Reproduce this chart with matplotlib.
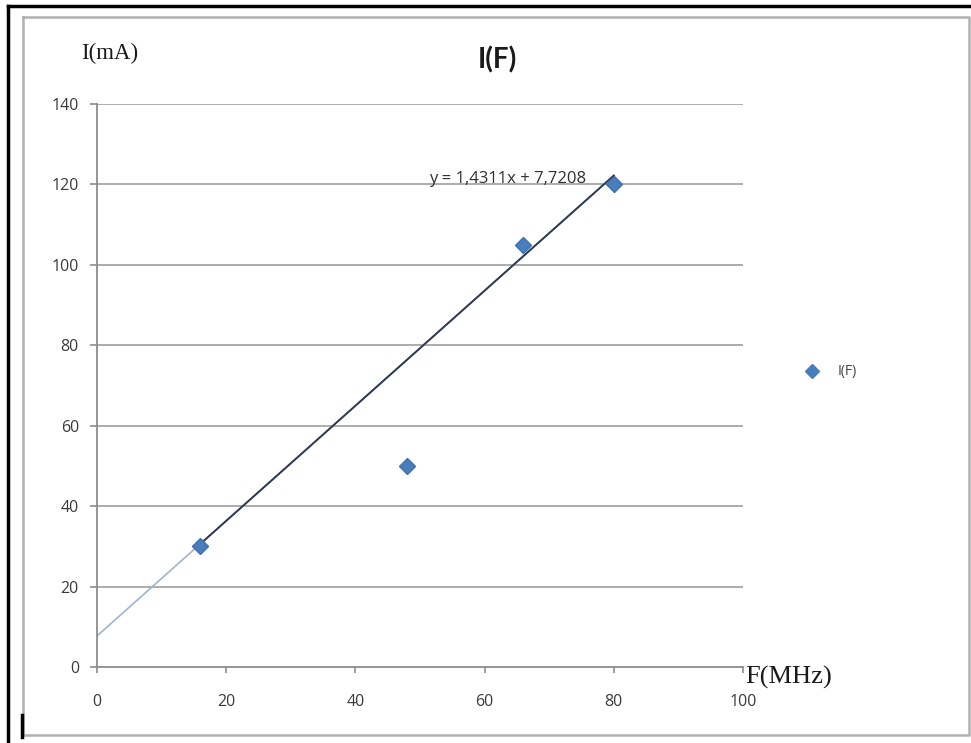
import matplotlib
matplotlib.use("Agg")
import matplotlib.pyplot as plt
from matplotlib.lines import Line2D
import numpy as np

# ---- data ----
freq_mhz = [16, 48, 66, 80]
current_ma = [30, 50, 105, 120]
trend_slope = 1.4311
trend_intercept = 7.7208
trend_label = "y = 1,4311x + 7,7208"
x_ticks = [0, 20, 40, 60, 80, 100]
y_ticks = [0, 20, 40, 60, 80, 100, 120, 140]
series_name = "I(F)"
title = "I(F)"
y_title = "I(mA)"
x_title = "F(MHz)"

W, H = 971, 743
fig = plt.figure(figsize=(W / 100, H / 100), dpi=100)
fig.patch.set_facecolor("white")

def fx(px):
    return px / W

def fy(py):
    return 1 - py / H

# plot area
x0, x1 = 97, 743
y0, y1 = 667, 104
ax = fig.add_axes([fx(x0), fy(y0), fx(x1) - fx(x0), fy(y1) - fy(y0)])
ax.set_xlim(0, 100)
ax.set_ylim(0, 140)

grid_c = "#a6a6a6"
axis_c = "#8c8c8c"
for v in y_ticks[1:]:
    ax.axhline(v, color=grid_c, lw=1.3, zorder=1)
for s in ["top", "right"]:
    ax.spines[s].set_visible(False)
for s in ["left", "bottom"]:
    ax.spines[s].set_color(axis_c)
    ax.spines[s].set_linewidth(1.3)

ax.set_xticks(x_ticks)
ax.set_yticks(y_ticks)
ax.set_xticklabels([str(t) for t in x_ticks])
ax.set_yticklabels([str(t) for t in y_ticks])
ax.tick_params(axis="y", direction="out", length=5, width=1.2, color=axis_c,
               pad=8, labelsize=11.5, labelcolor="#3a3a3a")
ax.tick_params(axis="x", direction="out", length=4.5, width=1.2, color=axis_c,
               pad=15, labelsize=11.5, labelcolor="#3a3a3a")
for lab in ax.get_xticklabels() + ax.get_yticklabels():
    lab.set_fontfamily("Open Sans")

# trendline (full, light) and darker segment over data range
xt = np.array([0, max(freq_mhz)])
ax.plot(xt, trend_slope * xt + trend_intercept, color="#9fb3cf", lw=1.2, zorder=2)
xd = np.array([min(freq_mhz), max(freq_mhz)])
ax.plot(xd, trend_slope * xd + trend_intercept, color="#2e3a52", lw=1.4, zorder=3)

ax.plot(freq_mhz, current_ma, linestyle="none", marker="D", markersize=8.5,
        color="#4a7ebb", markeredgecolor="#3f70ad", zorder=4)

# equation label (placed near the top of the trendline)
ax.text(63.6, 121.3, trend_label, ha="center", va="center", fontsize=12,
        color="#303030", family="Open Sans", zorder=5)

# texts
fig.text(fx(497), fy(60), title, ha="center", va="center", fontsize=20,
         fontweight="bold", family="Lato", color="#1a1a1a")
fig.text(fx(110), fy(53), y_title, ha="center", va="center", fontsize=16.5,
         family="Liberation Serif", color="#1a1a1a")
fig.text(fx(789), fy(677), x_title, ha="center", va="center", fontsize=19,
         family="Liberation Serif", color="#1a1a1a")

# legend
fig.add_artist(Line2D([fx(812)], [fy(371)], marker="D", markersize=7,
                      color="#4a7ebb", linestyle="none", transform=fig.transFigure))
fig.text(fx(838), fy(371), series_name, ha="left", va="center", fontsize=10,
         family="Open Sans", color="#404040")

# frames
def fline(xs, ys, **kw):
    fig.add_artist(Line2D([fx(v) for v in xs], [fy(v) for v in ys],
                          transform=fig.transFigure, **kw))

fline([23, 969, 969, 23, 23], [17, 17, 735, 735, 17], color="#b0b0b0", lw=1.8)
fline([8, 971], [6, 6], color="black", lw=2.5)
fline([8, 8], [6, 743], color="black", lw=2.5)
fline([21.5, 21.5], [715, 737], color="black", lw=2.5)

fig.savefig("out.png", dpi=100, facecolor="white")
